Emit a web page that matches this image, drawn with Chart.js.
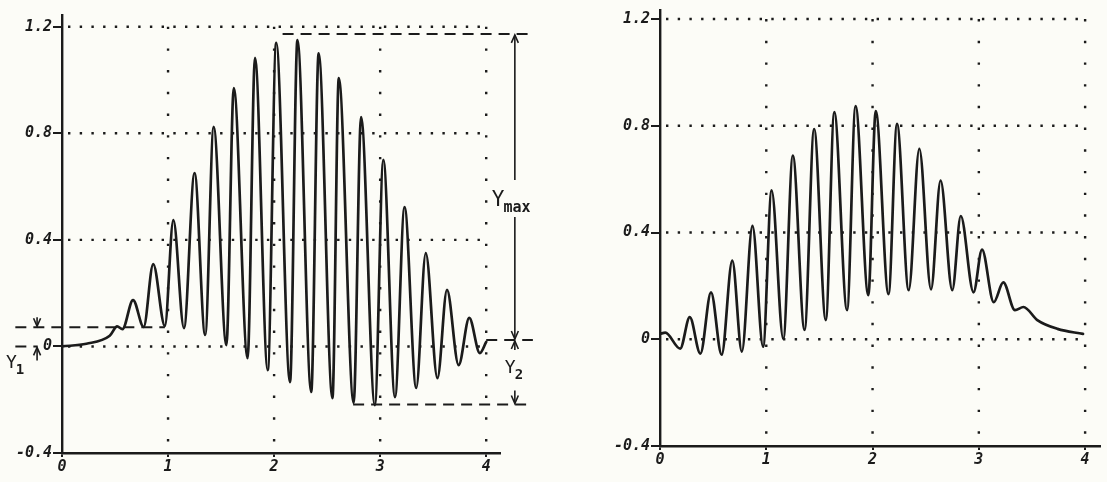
<!DOCTYPE html>
<html lang="en">
<head>
<meta charset="UTF-8">
<title>Oscillation plots</title>
<script src="https://cdn.jsdelivr.net/npm/chart.js@4.4.1/dist/chart.umd.min.js"></script>
<style>
  html, body { margin: 0; padding: 0; background: #fcfcf7; }
  #wrap { position: relative; width: 1107px; height: 482px; overflow: hidden; }
  #left { position: absolute; left: 0; top: 0; }
  #right { position: absolute; left: 560px; top: 0; }
</style>
</head>
<body>
<div id="wrap">
  <canvas id="left" width="560" height="482" style="width:560px;height:482px"></canvas>
  <canvas id="right" width="547" height="482" style="width:547px;height:482px"></canvas>
</div>
<script>
// tick values
const xTicks = [0, 1, 2, 3, 4];
const yTicks = [-0.4, 0, 0.4, 0.8, 1.2];
const gridX = [1, 2, 3, 4];
const gridY = [0, 0.4, 0.8, 1.2];

// left curve (extrema and shoulders)
const leftX = [0, 0.23, 0.45, 0.52, 0.57, 0.67, 0.77, 0.86, 0.97, 1.05, 1.15, 1.25, 1.35, 1.43, 1.55, 1.62, 1.75, 1.82,
  1.94, 2.02, 2.15, 2.22, 2.35, 2.42, 2.55, 2.61, 2.75, 2.82, 2.95, 3.03, 3.14, 3.23, 3.34, 3.43, 3.54, 3.63, 3.74, 3.84, 3.94, 4.0];
const leftY = [0, 0.01, 0.04, 0.075, 0.065, 0.174, 0.073, 0.309, 0.077, 0.474, 0.069, 0.651, 0.043, 0.824, 0.005, 0.97, -0.044, 1.083,
  -0.089, 1.139, -0.134, 1.15, -0.171, 1.10, -0.194, 1.007, -0.212, 0.861, -0.22, 0.70, -0.19, 0.523, -0.156, 0.35, -0.119, 0.212, -0.07, 0.107, -0.025, 0.017];

// right curve
const rightX = [0, 0.05, 0.19, 0.28, 0.38, 0.48, 0.58, 0.68, 0.77, 0.87, 0.97, 1.05, 1.16, 1.25, 1.36, 1.45, 1.56, 1.64, 1.76, 1.84,
  1.96, 2.03, 2.15, 2.23, 2.34, 2.44, 2.55, 2.64, 2.75, 2.83, 2.95, 3.03, 3.14, 3.23, 3.34, 3.42, 3.55, 3.74, 3.98];
const rightY = [0.02, 0.025, -0.035, 0.083, -0.054, 0.176, -0.058, 0.295, -0.046, 0.425, -0.028, 0.558, 0.002, 0.688, 0.035, 0.788, 0.072, 0.851, 0.109, 0.874,
  0.165, 0.855, 0.169, 0.807, 0.184, 0.714, 0.187, 0.595, 0.184, 0.462, 0.176, 0.336, 0.139, 0.213, 0.109, 0.121, 0.072, 0.039, 0.02];

// reference levels drawn on the left plot: Ymax, end level, minimum, Y1, zero
const noteLevels = [1.173, 0.024, -0.218, 0.072, 0];
const noteStart = [2.08, 4.0, 2.745, -0.44, -0.44];
const noteEnd = [4.42, 4.44, 4.44, 0.97, -0.23];

const ink = '#1b1b1b';
const tickFont = { family: 'DejaVu Sans Mono', size: 15, weight: 'bold', style: 'italic' };

function points(xs, ys) {
  return xs.map((x, i) => ({ x: x, y: ys[i] }));
}

const dottedGrid = {
  id: 'dottedGrid',
  beforeDatasetsDraw(chart) {
    const ctx = chart.ctx, x = chart.scales.x, y = chart.scales.y;
    ctx.save();
    ctx.strokeStyle = ink;
    ctx.lineWidth = 2.4;
    ctx.setLineDash([2.4, 9.3]);
    gridY.forEach(v => {
      const py = y.getPixelForValue(v);
      ctx.beginPath();
      ctx.moveTo(x.getPixelForValue(0) + 6, py);
      ctx.lineTo(x.getPixelForValue(4) + 1, py);
      ctx.stroke();
    });
    ctx.setLineDash([2.4, 19.3]);
    gridX.forEach(v => {
      const px = x.getPixelForValue(v);
      ctx.beginPath();
      ctx.moveTo(px, y.getPixelForValue(1.2));
      ctx.lineTo(px, y.getPixelForValue(-0.4) - 4);
      ctx.stroke();
    });
    ctx.restore();
  }
};

function arrow(ctx, px, tip, dir) {
  // dir = -1 points up, 1 points down
  ctx.beginPath();
  ctx.moveTo(px - 3.5, tip - dir * 8);
  ctx.lineTo(px, tip);
  ctx.lineTo(px + 3.5, tip - dir * 8);
  ctx.stroke();
}

function label(ctx, main, sub, px, py, bigSize, subSize) {
  ctx.font = bigSize + 'px "DejaVu Sans Mono"';
  ctx.textBaseline = 'alphabetic';
  ctx.textAlign = 'left';
  ctx.fillText(main, px, py);
  const w = ctx.measureText(main).width;
  ctx.font = 'bold ' + subSize + 'px "DejaVu Sans Mono"';
  ctx.fillText(sub, px + w - 1, py + 6);
}

const leftNotes = {
  id: 'leftNotes',
  afterDraw(chart) {
    const ctx = chart.ctx, x = chart.scales.x, y = chart.scales.y;
    const px = v => x.getPixelForValue(v), py = v => y.getPixelForValue(v);
    ctx.save();
    ctx.strokeStyle = ink;
    ctx.fillStyle = ink;
    ctx.lineWidth = 2;
    ctx.setLineDash([11, 7]);
    noteLevels.forEach((lv, i) => {
      ctx.beginPath();
      ctx.moveTo(px(noteStart[i]), py(lv));
      ctx.lineTo(px(noteEnd[i]), py(lv));
      ctx.stroke();
    });
    ctx.setLineDash([]);
    ctx.lineWidth = 1.6;

    // Ymax arrow
    const ax = px(4.27);
    const labY = py(0.55);
    ctx.beginPath();
    ctx.moveTo(ax, py(noteLevels[0]) + 1);
    ctx.lineTo(ax, labY - 20);
    ctx.moveTo(ax, labY + 17);
    ctx.lineTo(ax, py(noteLevels[1]) - 1);
    ctx.stroke();
    arrow(ctx, ax, py(noteLevels[0]) + 1, -1);
    arrow(ctx, ax, py(noteLevels[1]) - 1, 1);
    label(ctx, 'Y', 'max', ax - 23, labY + 6, 21, 15);

    // Y2 arrows
    ctx.beginPath();
    ctx.moveTo(ax, py(noteLevels[1]) + 1);
    ctx.lineTo(ax, py(noteLevels[1]) + 10);
    ctx.moveTo(ax, py(noteLevels[2]) - 14);
    ctx.lineTo(ax, py(noteLevels[2]) - 1);
    ctx.stroke();
    arrow(ctx, ax, py(noteLevels[1]) + 1, -1);
    arrow(ctx, ax, py(noteLevels[2]) - 1, 1);
    label(ctx, 'Y', '2', ax - 10, py(-0.1), 18, 14);

    // Y1 arrows
    const bx = px(-0.235);
    ctx.beginPath();
    ctx.moveTo(bx, py(noteLevels[3]) - 10);
    ctx.lineTo(bx, py(noteLevels[3]) - 1);
    ctx.moveTo(bx, py(0) + 1);
    ctx.lineTo(bx, py(0) + 14);
    ctx.stroke();
    arrow(ctx, bx, py(noteLevels[3]) - 1, 1);
    arrow(ctx, bx, py(0) + 1, -1);
    label(ctx, 'Y', '1', 6, py(-0.08), 18, 14);
    ctx.restore();
  }
};

function makeChart(id, xs, ys, cfg, extra) {
  return new Chart(document.getElementById(id), {
    type: 'line',
    data: {
      datasets: [{
        data: points(xs, ys),
        borderColor: ink,
        borderWidth: 2.7,
        borderJoinStyle: 'round',
        borderCapStyle: 'round',
        pointRadius: 0,
        fill: false,
        cubicInterpolationMode: 'monotone'
      }]
    },
    options: {
      responsive: false,
      animation: false,
      events: [],
      layout: { padding: { top: cfg.padTop, right: cfg.padRight, left: 0, bottom: 0 } },
      plugins: { legend: { display: false }, tooltip: { enabled: false } },
      scales: {
        x: {
          type: 'linear',
          min: 0,
          max: cfg.xMax,
          afterBuildTicks: s => { s.ticks = xTicks.map(v => ({ value: v })); },
          afterFit: s => { s.height = cfg.xAxisHeight; },
          grid: { drawOnChartArea: false, drawTicks: true, tickLength: 4, color: ink, lineWidth: 2 },
          border: { color: ink, width: 2.4 },
          ticks: { color: ink, font: tickFont, padding: 1, maxRotation: 0, callback: v => String(v) }
        },
        y: {
          type: 'linear',
          min: -0.4,
          max: cfg.yMax,
          afterBuildTicks: s => { s.ticks = yTicks.map(v => ({ value: v })); },
          afterFit: s => { s.width = cfg.yAxisWidth; },
          grid: { drawOnChartArea: false, drawTicks: true, tickLength: 9, color: ink, lineWidth: 2 },
          border: { color: ink, width: 2.4 },
          ticks: { color: ink, font: tickFont, padding: 1, callback: v => (v === 0 ? '0' : v.toFixed(1)) }
        }
      }
    },
    plugins: [dottedGrid].concat(extra)
  });
}

makeChart('left', leftX, leftY,
  { padTop: 15, padRight: 60, xMax: 4.13, yMax: 1.244, xAxisHeight: 29, yAxisWidth: 62 }, [leftNotes]);
makeChart('right', rightX, rightY,
  { padTop: 5, padRight: 7, xMax: 4.14, yMax: 1.234, xAxisHeight: 36, yAxisWidth: 100 }, []);
</script>
</body>
</html>
